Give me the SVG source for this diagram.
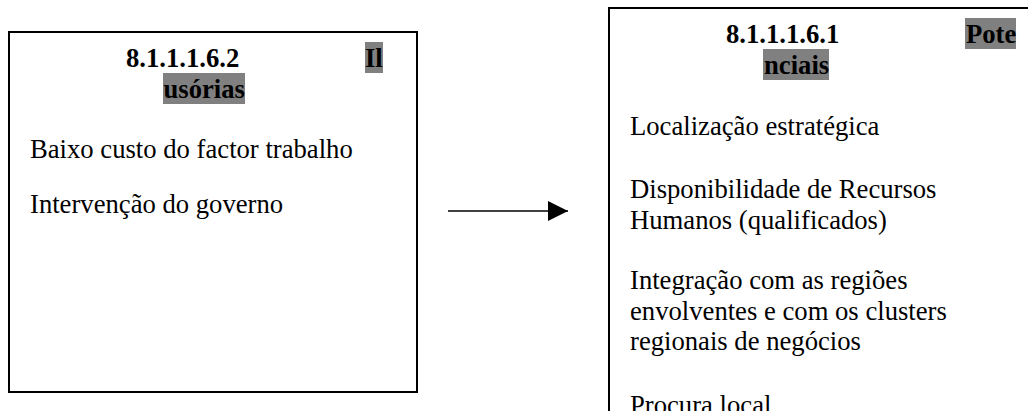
<svg xmlns="http://www.w3.org/2000/svg" width="1028" height="411" viewBox="0 0 1028 411">
<style>
.box{fill:#fff;stroke:#000;stroke-width:2}
.t{font-family:"Liberation Serif","Times New Roman",serif;font-size:26.67px;fill:#000}
.h{font-weight:bold}
.hl{fill:#808080}
</style>
<defs>
<marker id="ah" markerWidth="20" markerHeight="20" refX="20" refY="10" orient="auto" markerUnits="userSpaceOnUse">
<path d="M0,0 L20,10 L0,20 Z" fill="#000"/>
</marker>
</defs>
<rect width="1028" height="411" fill="#fff"/>
<g id="node-ilusorias">
<rect class="box" x="9" y="32" width="408" height="360"/>
<rect class="hl" x="365" y="42" width="18" height="31"/>
<rect class="hl" x="163" y="73" width="82" height="31"/>
<text class="t h" x="126" y="67">8.1.1.1.6.2</text>
<text class="t h" x="365" y="67">Il</text>
<text class="t h" x="163.5" y="98">usórias</text>
<text class="t" x="30" y="158">Baixo custo do factor trabalho</text>
<text class="t" x="30" y="213">Intervenção do governo</text>
</g>
<g id="node-potenciais">
<rect class="box" x="609" y="8" width="500" height="500"/>
<rect class="hl" x="965" y="18" width="51" height="31"/>
<rect class="hl" x="763" y="49" width="66" height="31"/>
<text class="t h" x="726" y="43">8.1.1.1.6.1</text>
<text class="t h" x="966" y="43">Pote</text>
<text class="t h" x="764" y="74">nciais</text>
<text class="t" x="630" y="135">Localização estratégica</text>
<text class="t" x="630" y="198">Disponibilidade de Recursos</text>
<text class="t" x="630" y="229">Humanos (qualificados)</text>
<text class="t" x="630" y="289">Integração com as regiões</text>
<text class="t" x="630" y="320">envolventes e com os clusters</text>
<text class="t" x="630" y="350">regionais de negócios</text>
<text class="t" x="630" y="414">Procura local</text>
</g>
<g id="connectors">
<line x1="448" y1="211" x2="568" y2="211" stroke="#000" stroke-width="1.5" marker-end="url(#ah)"/>
</g>
</svg>
